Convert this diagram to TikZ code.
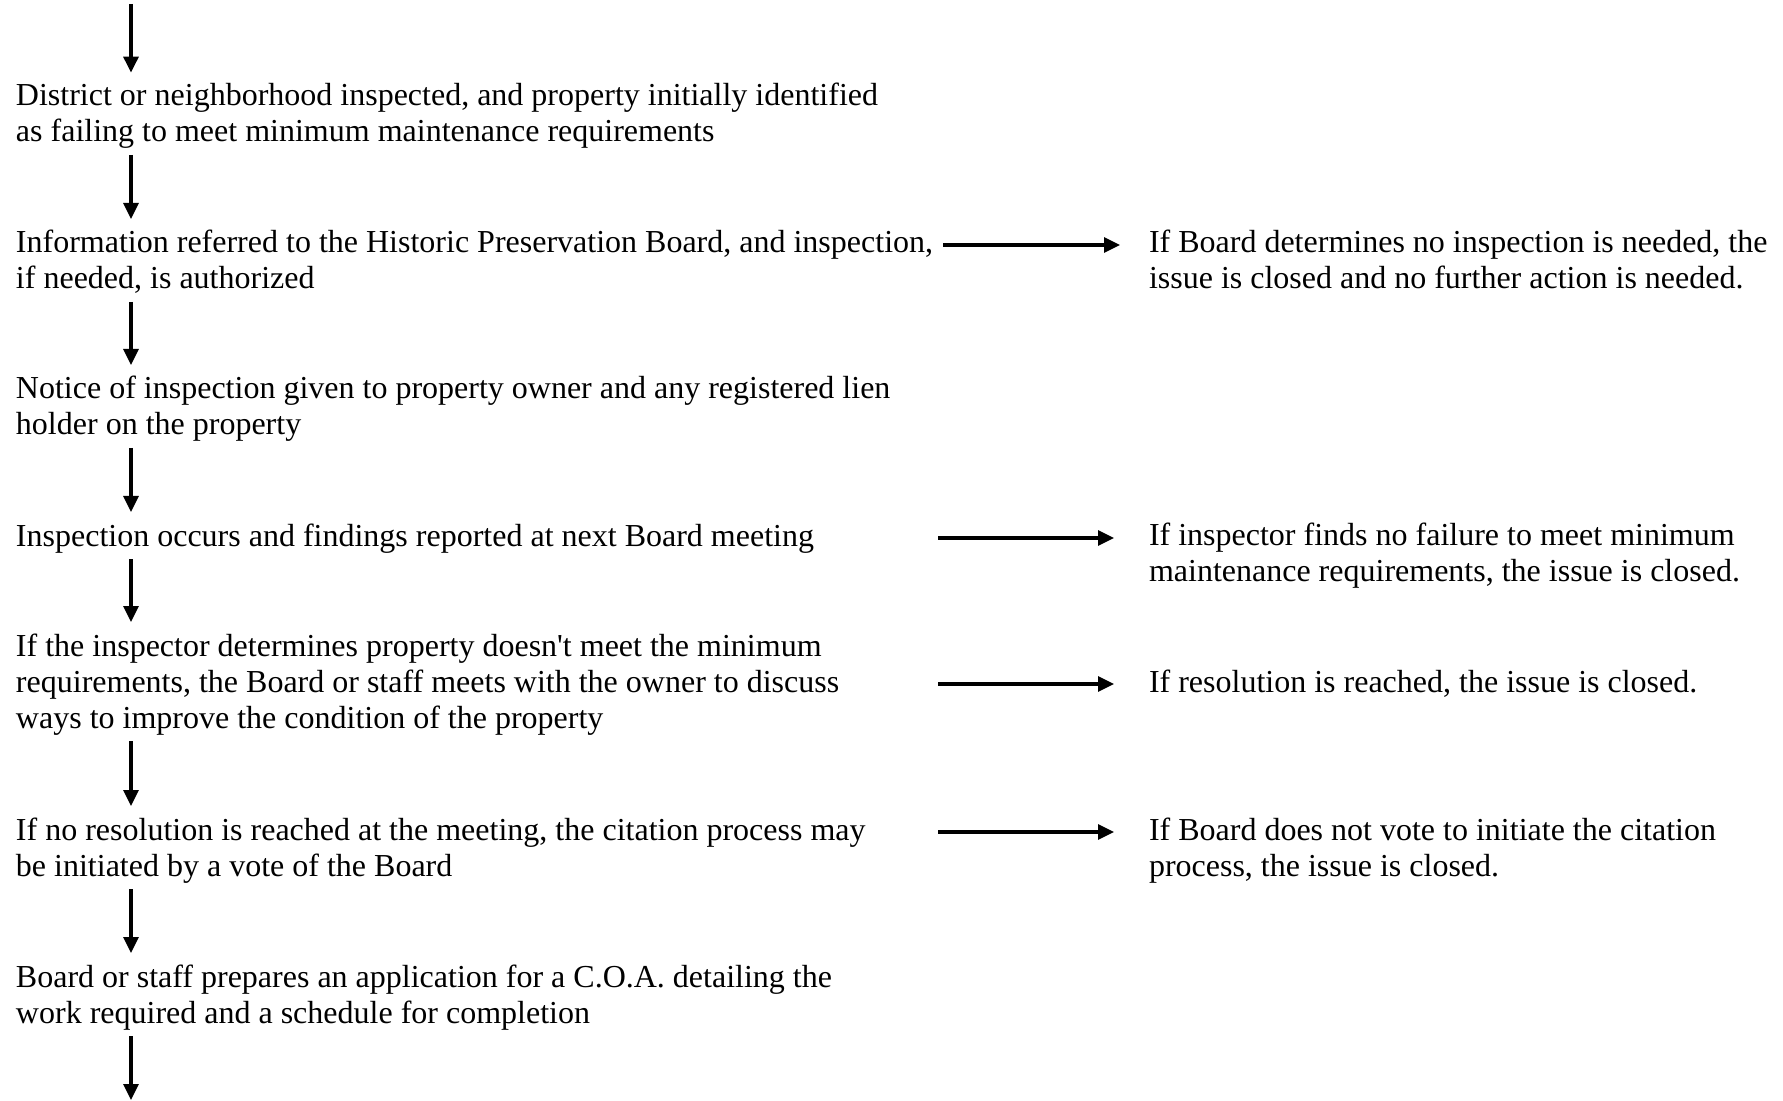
\documentclass[tikz,border=0pt]{standalone}
\usepackage{fontspec}
\setmainfont{Liberation Serif}
\usetikzlibrary{arrows.meta}
\tikzset{
  steptext/.style={anchor=north west, inner sep=0pt, outer sep=0pt, align=left,
    font=\fontsize{16pt}{18pt}\selectfont},
  arr/.style={line width=1.6pt, -{Triangle[length=8pt,width=7.5pt]}},
  downarr/.style={arr, shorten <=1.1pt, shorten >=4.4pt},
}
\newcommand{\sq}{\textquotesingle}
\begin{document}
\begin{tikzpicture}[x=0.5pt,y=-0.5pt]
\useasboundingbox (0,0) rectangle (1783,1101);
\coordinate (top) at (131,4);
\coordinate (bot) at (131,1101);
% left column (north = first baseline - 25.2)
\node[steptext] (t1) at (16,80.8) {\strut District or neighborhood inspected, and property initially identified\\as failing to meet minimum maintenance requirements\strut};
\node[steptext] (t2) at (16,227.8) {\strut Information referred to the Historic Preservation Board, and inspection,\\if needed, is authorized\strut};
\node[steptext] (t3) at (16,373.8) {\strut Notice of inspection given to property owner and any registered lien\\holder on the property\strut};
\node[steptext] (t4) at (16,520.8) {\strut Inspection occurs and findings reported at next Board meeting\strut};
\node[steptext] (t5) at (16,630.8) {\strut If the inspector determines property doesn\sq t meet the minimum\\requirements, the Board or staff meets with the owner to discuss\\ways to improve the condition of the property\strut};
\node[steptext] (t6) at (16,814.8) {\strut If no resolution is reached at the meeting, the citation process may\\be initiated by a vote of the Board\strut};
\node[steptext] (t7) at (16,961.8) {\strut Board or staff prepares an application for a C.O.A. detailing the\\work required and a schedule for completion\strut};
% right column
\node[steptext] (r2) at (1149,227.8) {\strut If Board determines no inspection is needed, the\\issue is closed and no further action is needed.\strut};
\node[steptext] (r4) at (1149,520.8) {\strut If inspector finds no failure to meet minimum\\maintenance requirements, the issue is closed.\strut};
\node[steptext] (r5) at (1149,666.8) {\strut If resolution is reached, the issue is closed.\strut};
\node[steptext] (r6) at (1149,814.8) {\strut If Board does not vote to initiate the citation\\process, the issue is closed.\strut};
% vertical arrows
\draw[arr, shorten >=4.1pt] (top) -- (t1.north -| top);
\draw[downarr] (t1.south -| top) -- (t2.north -| top);
\draw[downarr] (t2.south -| top) -- (t3.north -| top);
\draw[downarr] (t3.south -| top) -- (t4.north -| top);
\draw[downarr] (t4.south -| top) -- (t5.north -| top);
\draw[downarr] (t5.south -| top) -- (t6.north -| top);
\draw[downarr] (t6.south -| top) -- (t7.north -| top);
\draw[arr, shorten <=1.1pt, shorten >=0.5pt] (t7.south -| top) -- (bot);
% side arrows
\draw[arr] ([shift={(-206,17.2)}]r2.north west) -- ([shift={(-29,17.2)}]r2.north west);
\draw[arr] ([shift={(-211,17.2)}]r4.north west) -- ([shift={(-35,17.2)}]r4.north west);
\draw[arr] ([shift={(-211,17.2)}]r5.north west) -- ([shift={(-35,17.2)}]r5.north west);
\draw[arr] ([shift={(-211,17.2)}]r6.north west) -- ([shift={(-35,17.2)}]r6.north west);
\end{tikzpicture}
\end{document}
